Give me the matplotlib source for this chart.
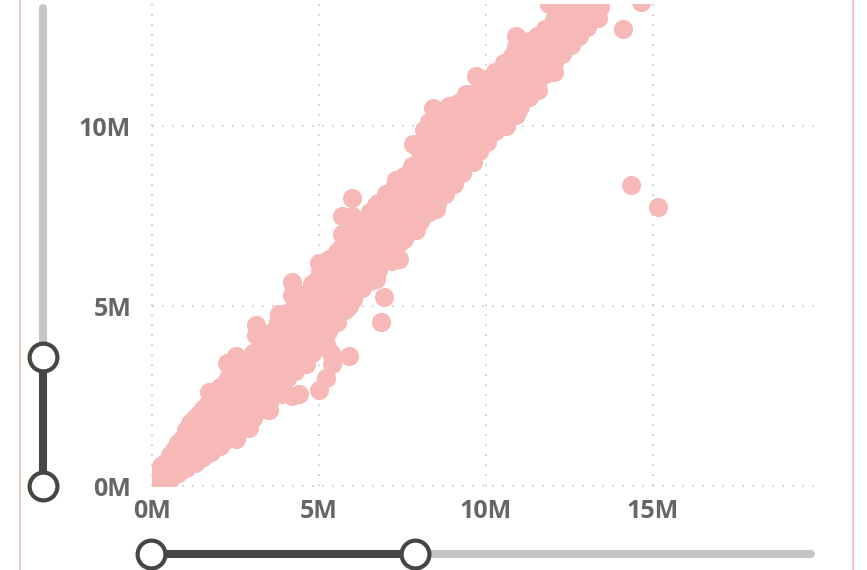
import numpy as np
import matplotlib
matplotlib.use("Agg")
import matplotlib.pyplot as plt

band_x = [0.15, 0.4, 0.65, 0.9, 1.15, 1.4, 1.65, 1.9, 2.15, 2.4, 2.65, 2.9, 3.15, 3.4, 3.65, 3.9, 4.15, 4.4, 4.65,
          4.9, 5.15, 5.4, 5.65, 5.9, 6.15, 6.4, 6.65, 6.9, 7.15, 7.4, 7.65, 7.9, 8.15, 8.4, 8.65, 8.9, 9.15, 9.4,
          9.65, 9.9, 10.15, 10.4, 10.65, 10.9, 11.15, 11.4, 11.65, 11.9, 12.15, 12.4, 12.65, 12.9, 13.15, 13.4]
band_y = [[.05, .3], [.15, .4, .65], [.35, .7, 1.0], [.5, .9, 1.3], [.7, 1.1, 1.5, 1.75], [.85, 1.25, 1.65, 2.0],
          [1.05, 1.45, 1.85, 2.25], [1.15, 1.55, 1.95, 2.35, 2.6], [1.3, 1.7, 2.1, 2.5, 2.8], [1.5, 1.9, 2.3, 2.7, 3.0],
          [1.7, 2.1, 2.5, 2.9, 3.25], [1.95, 2.35, 2.75, 3.15, 3.5], [2.15, 2.55, 2.95, 3.35, 3.75],
          [2.4, 2.8, 3.2, 3.6, 4.0], [2.7, 3.1, 3.5, 3.9, 4.3], [3.0, 3.4, 3.8, 4.2, 4.6], [3.3, 3.7, 4.1, 4.5, 4.85],
          [3.5, 3.9, 4.3, 4.7, 5.1], [3.7, 4.1, 4.5, 4.9, 5.35], [4.1, 4.5, 4.9, 5.3, 5.7], [4.4, 4.8, 5.2, 5.6, 6.0],
          [4.6, 5.0, 5.4, 5.8, 6.2], [4.95, 5.35, 5.75, 6.15, 6.6], [5.3, 5.7, 6.1, 6.5, 6.9], [5.6, 6.0, 6.4, 6.8, 7.15],
          [5.8, 6.2, 6.6, 7.0, 7.35], [6.1, 6.5, 6.9, 7.3, 7.6], [6.4, 6.8, 7.2, 7.6, 7.85], [6.7, 7.1, 7.5, 7.9, 8.1],
          [6.95, 7.35, 7.75, 8.15, 8.35], [7.2, 7.6, 8.0, 8.4, 8.6], [7.4, 7.8, 8.2, 8.6, 8.95], [7.7, 8.1, 8.5, 8.9, 9.3],
          [7.95, 8.35, 8.75, 9.15, 9.6], [8.2, 8.6, 9.0, 9.4, 9.85], [8.5, 8.9, 9.3, 9.7, 10.1], [8.8, 9.2, 9.6, 10.0, 10.4],
          [9.1, 9.5, 9.9, 10.3, 10.6], [9.4, 9.8, 10.2, 10.6, 10.8], [9.7, 10.1, 10.5, 10.9, 11.0], [9.9, 10.3, 10.7, 11.1],
          [10.1, 10.5, 10.9, 11.3], [10.4, 10.8, 11.2, 11.55], [10.6, 11.0, 11.4, 11.75], [10.85, 11.25, 11.65, 11.95],
          [11.2, 11.6, 12.0, 12.2], [11.5, 11.9, 12.3, 12.4], [11.8, 12.1, 12.5], [12.05, 12.4, 12.8], [12.3, 12.65, 13.05],
          [12.55, 12.9, 13.3], [12.8, 13.15, 13.55], [13.05, 13.4], [13.3, 13.6]]

# Upper and lower rims of the band, these smooth out its edges
edge_x = [0.28, 0.53, 0.78, 1.03, 1.28, 1.53, 1.78, 2.03, 2.28, 2.53, 2.78, 3.03, 3.28, 3.53, 3.78, 4.03, 4.28, 4.53,
          4.78, 5.03, 5.28, 5.53, 5.78, 6.03, 6.28, 6.53, 6.78, 7.03, 7.28, 7.53, 7.78, 8.03, 8.28, 8.53, 8.78, 9.03,
          9.28, 9.53, 9.78, 10.03, 10.28, 10.53, 10.78, 11.03, 11.28, 11.53, 11.78, 12.03, 12.28, 12.53, 12.78, 13.03, 13.28]
edge_hi = [.55, .85, 1.2, 1.55, 1.9, 2.15, 2.45, 2.75, 3.0, 3.2, 3.45, 3.7, 3.95, 4.25, 4.55, 4.8, 5.05, 5.3, 5.6,
           5.95, 6.2, 6.5, 6.85, 7.1, 7.35, 7.6, 7.85, 8.1, 8.35, 8.6, 8.9, 9.3, 9.6, 9.85, 10.1, 10.4, 10.7, 10.9,
           11.05, 11.3, 11.5, 11.75, 11.95, 12.15, 12.35, 12.5, 12.7, 12.95, 13.2, 13.45, 13.7, 13.7, 13.7]
edge_lo = [.1, .2, .35, .5, .65, .8, .95, 1.1, 1.3, 1.45, 1.7, 1.9, 2.15, 2.4, 2.7, 3.0, 3.2, 3.4, 3.7, 4.0, 4.3,
           4.55, 4.9, 5.2, 5.5, 5.7, 6.0, 6.3, 6.6, 6.85, 7.1, 7.35, 7.6, 7.85, 8.1, 8.4, 8.7, 9.0, 9.3, 9.55, 9.85,
           10.05, 10.3, 10.55, 10.8, 11.1, 11.45, 11.75, 12.0, 12.25, 12.5, 12.75, 13.0]

# Points sticking out of the band
out_x = [1.4, 2.5, 2.9, 3.5, 4.6, 4.2, 3.9, 4.4, 5.0, 5.2, 5.4, 5.9, 5.35, 5.1, 5.5, 5.9,
         3.1, 2.25, 2.5, 1.7, 3.8, 4.2, 4.2, 3.1, 7.8, 6.0, 5.7, 6.0, 5.7, 6.7, 7.0, 7.3, 5.0, 5.3,
         9.6, 9.0, 8.5, 8.7, 7.9, 7.4, 7.4, 7.2, 6.7, 6.95, 6.85, 5.9, 5.5, 5.1, 5.2,
         10.9, 10.9, 9.7, 10.6, 9.4, 8.9, 8.4, 10.3, 13.35, 14.1, 14.65, 12.05, 11.55, 11.0, 10.9, 10.6,
         10.05, 9.55, 8.9, 11.9, 14.35, 15.15, 8.3, 8.7, 9.1, 8.15, 10.0, 11.15]
out_y = [.75, 1.3, 1.6, 2.1, 3.4, 2.5, 2.55, 2.55, 2.67, 3.0, 3.4, 3.6, 3.7, 3.9, 4.8, 5.05,
         4.47, 3.42, 3.6, 2.6, 4.78, 5.3, 5.67, 4.2, 9.5, 8.0, 7.5, 7.5, 7.0, 7.8, 8.1, 8.5, 6.2, 6.3,
         9.0, 8.4, 7.7, 8.1, 7.1, 6.75, 6.3, 6.25, 5.75, 5.25, 4.55, 5.0, 4.8, 4.4, 3.95,
         12.5, 12.2, 11.4, 11.67, 10.9, 10.55, 10.5, 11.5, 13.0, 12.7, 13.45, 11.5, 11.0, 10.5, 10.3, 10.0,
         9.8, 9.0, 8.5, 13.4, 8.36, 7.75, 10.1, 10.3, 10.6, 9.9, 11.2, 12.0]

x_ticks = [0, 5, 10, 15]
y_ticks = [0, 5, 10]
x_labels = ["0M", "5M", "10M", "15M"]
y_labels = ["0M", "5M", "10M"]

# Flatten the columns
x = []
y = []
for i in range(len(band_x)):
    for v in band_y[i]:
        x.append(band_x[i])
        y.append(v)
x = np.array(x + edge_x + edge_x + out_x)
y = np.array(y + edge_hi + edge_lo + out_y)

W = 867
H = 570
fig = plt.figure(figsize=(W / 100, H / 100), dpi=100)

# Plot area in pixels: x 152..814, y 4..486
ax = fig.add_axes([152 / W, 1 - 486 / H, 662 / W, 482 / H])
ax.set_xlim(0, 662 / 33.4)
ax.set_ylim(0, 482 / 36)
for s in ax.spines.values():
    s.set_visible(False)
ax.set_xticks(x_ticks)
ax.set_yticks(y_ticks)
ax.set_xticklabels(x_labels, fontfamily="Open Sans", fontweight="bold", fontsize=18, color="#666666")
ax.set_yticklabels(y_labels, fontfamily="Open Sans", fontweight="bold", fontsize=18, color="#666666")
ax.tick_params(axis="x", length=0, pad=9)
ax.tick_params(axis="y", length=0, pad=15)
ax.grid(True, color="#bdbdbd", linewidth=1.1, linestyle=(0, (1, 5.55)), clip_on=False)
ax.set_axisbelow(True)

ax.scatter(x, y, s=190, color="#f7b8b8", linewidths=0, zorder=3)

# Overlay in pixel coordinates for the frame and the two range sliders
ui = fig.add_axes([0, 0, 1, 1], facecolor="none")
ui.set_xlim(0, W)
ui.set_ylim(H, 0)
ui.axis("off")

ui.plot([20, 20], [0, H], color="#f7b7b7", lw=1.3)
ui.plot([852.5, 852.5], [0, H], color="#f7b7b7", lw=1.3)

grey = "#c6c5c3"
dark = "#474644"
ui.plot([43, 43], [8, 357], color=grey, lw=5.8, solid_capstyle="round")
ui.plot([43, 43], [357, 486], color=dark, lw=5.8, solid_capstyle="butt")
ui.plot([415, 811], [553.5, 553.5], color=grey, lw=5.8, solid_capstyle="round")
ui.plot([151, 415], [553.5, 553.5], color=dark, lw=5.8, solid_capstyle="butt")
ui.plot([43, 43], [357, 486], "o", ms=20, mfc="white", mec=dark, mew=3)
ui.plot([151, 415], [553.5, 553.5], "o", ms=20, mfc="white", mec=dark, mew=3, clip_on=False)

fig.savefig("out.png", dpi=100)
